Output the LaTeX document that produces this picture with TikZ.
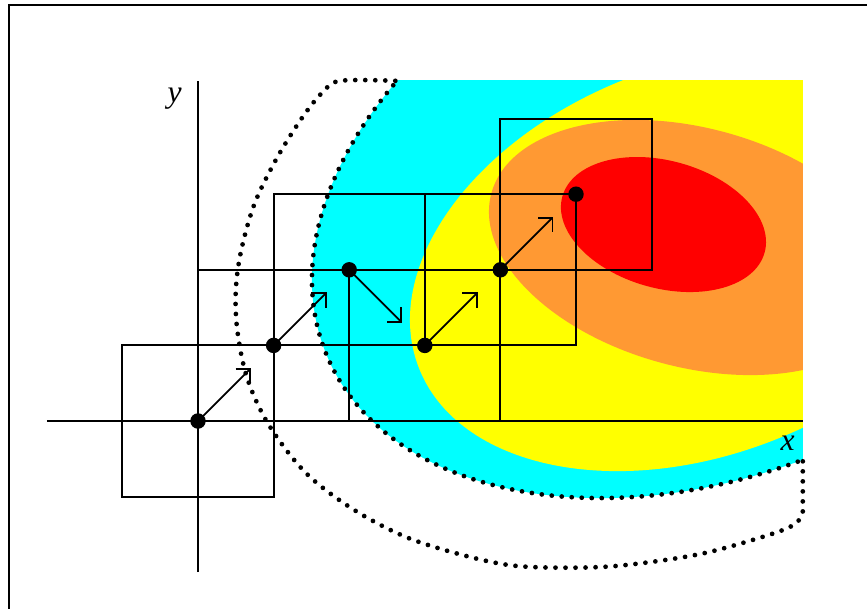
\documentclass[tikz,border=0pt]{standalone}
\usepackage{fontspec}
\setmainfont{Liberation Serif}
\usepackage{tikz}
\usetikzlibrary{arrows.meta, calc}
\definecolor{ccyan}{HTML}{00FFFF}
\definecolor{cyellow}{HTML}{FFFF00}
\definecolor{corange}{HTML}{FF9933}
\definecolor{cred}{HTML}{FF0000}

\begin{document}
\begin{tikzpicture}[x=0.756cm, y=0.756cm,
  font=\fontsize{9}{10}\selectfont,
  gridbox/.style={draw=black, line width=0.6pt},
  stepto/.style={-{Straight Barb[length=2.9pt, width=5.8pt]}, line width=0.5pt},
  dotline/.style={line width=1.35pt, dash pattern=on 0pt off 2.85pt, line cap=round},
  ptdot/.style={circle, fill=black, inner sep=0pt, minimum size=4.4pt}]
  \useasboundingbox (-2.619,-2.474) rectangle (8.849,5.569);
  \draw[line width=0.6pt] (-2.5,-3) rectangle (9.5,5.503);

  % level sets of the objective
  \begin{scope}
    \clip (-2.6,-2.5) rectangle (8,4.5);
    \fill[ccyan, rotate around={23.1:(6.905,3.066)}] (6.905,3.066) ellipse [x radius=5.647, y radius=3.731];
    \fill[cyellow, rotate around={20.85:(6.64,2.136)}] (6.64,2.136) ellipse [x radius=3.985, y radius=2.581];
    \fill[corange, rotate around={-15:(6.548,2.295)}] (6.548,2.295) ellipse [x radius=2.762, y radius=1.582];
    \fill[cred, rotate around={-15.5:(6.157,2.599)}] (6.157,2.599) ellipse [x radius=1.388, y radius=0.843];
    \draw[dotline, rotate around={23.1:(6.905,3.066)}] (6.905,3.066) ellipse [x radius=5.647, y radius=3.731];
  \end{scope}

  % outer band
  \draw[dotline] plot[smooth, tension=0.55] coordinates {(2.61,4.5) (1.88,4.5) (1.65,4.35) (1.39,4.03) (1.05,3.49) (0.75,2.88) (0.57,2.25) (0.50,1.73) (0.52,1.20) (0.65,0.57) (0.93,-0.04) (1.42,-0.68) (2.04,-1.16) (2.74,-1.53) (3.49,-1.77) (4.15,-1.91) (4.87,-1.94) (5.61,-1.91) (6.64,-1.76) (7.54,-1.51) (7.90,-1.36) (8,-1.2)} -- (8,-0.45);

  % axes
  \coordinate (xs) at (-2,0);
  \coordinate (xe) at (8,0);
  \coordinate (ys) at (0,-2);
  \coordinate (ye) at (0,4.5);
  \draw[line width=0.6pt] (xs) -- (xe);
  \draw[line width=0.6pt] (ys) -- (ye);
  \node (xlab) at (7.80,-0.30) {\textit{x}};
  \node (ylab) at (-0.31,4.27) {\textit{y}};

  % iterates and their boxes
  \foreach \i/\px/\py in {1/0/0, 2/1/1, 3/2/2, 4/3/1, 5/4/2, 6/5/3} {
    \coordinate (p\i) at (\px,\py);
    \draw[gridbox] ($(p\i)+(-1,-1)$) rectangle ($(p\i)+(1,1)$);
  }
  \foreach \i/\dy in {1/0.7, 2/0.7, 3/-0.7, 4/0.7, 5/0.7} {
    \coordinate (a\i) at ($(p\i)+(0.7,\dy)$);
    \draw[stepto] (p\i) -- (a\i);
  }
  \foreach \i in {1,...,6}
    \node[ptdot] (d\i) at (p\i) {};
\end{tikzpicture}
\end{document}
